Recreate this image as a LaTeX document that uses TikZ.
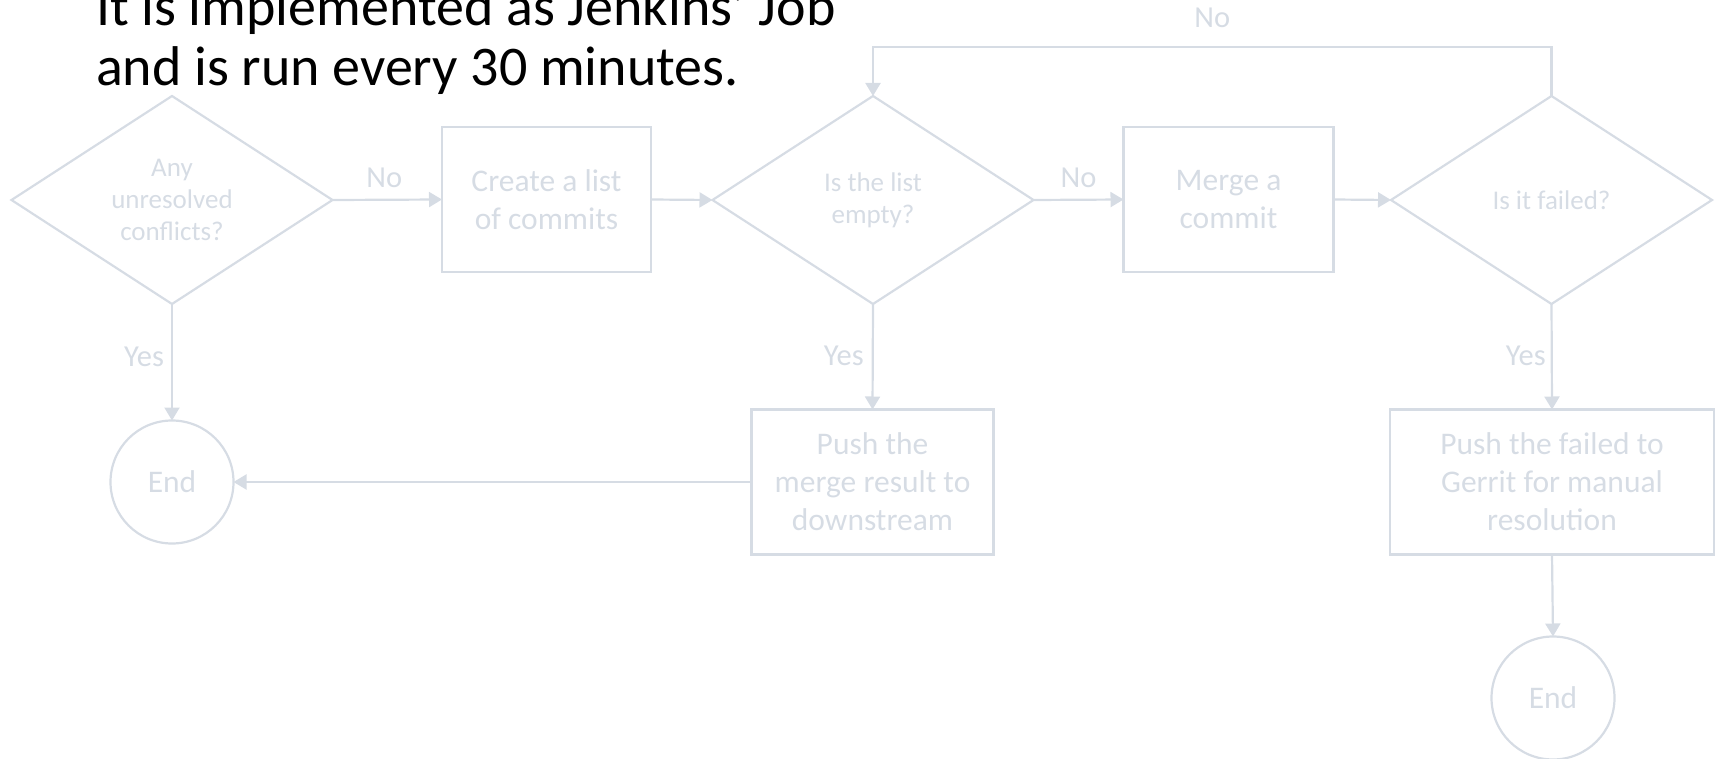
\documentclass[tikz,border=0pt]{standalone}
\usepackage{fontspec}
\setmainfont{Carlito}
\usetikzlibrary{shapes.geometric,arrows.meta}
\definecolor{flowgray}{RGB}{214,220,228}
\begin{document}
\begin{tikzpicture}[x=1pt,y=-1pt,
  every node/.style={inner sep=0pt, outer sep=0pt},
  decision/.style={draw=flowgray, line width=2.2pt, shape=diamond, aspect=1.54,
    minimum width=321pt, minimum height=208pt, align=center, text=flowgray,
    font=\fontsize{27}{32}\selectfont},
  stepbox/.style={draw=flowgray, line width=2.2pt, rectangle, align=center, text=flowgray,
    minimum height=145pt, font=\fontsize{31.5}{38}\selectfont},
  terminal/.style={draw=flowgray, line width=2.2pt, circle, minimum size=123pt,
    text=flowgray, font=\fontsize{31.5}{38}\selectfont},
  arr/.style={draw=flowgray, line width=2.2pt, -{Triangle[length=13pt,width=15pt]}},
  lbl/.style={text=flowgray, font=\fontsize{30.5}{36}\selectfont},
  heading/.style={anchor=base west, text=black, font=\fontsize{56}{60}\selectfont}]
\useasboundingbox (0,0) rectangle (1715,759);
\clip (0,0) rectangle (1715,759);

% heading
\node[heading] (title1) at (96,26) {It is implemented as Jenkins’ Job};
\node[heading] (title2) at (96,86) {and is run every 30 minutes.};

% main row
\node[decision] (conflicts) at (172,200) {Any\\unresolved\\conflicts?};
\node[stepbox, minimum width=209pt] (list) at (546.5,199.5) {Create a list\\of commits};
\node[decision] (empty) at (873,200) {Is the list\\empty?};
\node[stepbox, minimum width=210pt] (merge) at (1228.5,199.5) {Merge a\\commit};
\node[decision] (failed) at (1551.5,200) {Is it failed?};

% lower row
\node[terminal] (end1) at (172,482) {End};
\node[stepbox, minimum width=242pt] (pushmerge) at (872.5,482) {Push the\\merge result to\\downstream};
\node[stepbox, minimum width=324pt] (pushfailed) at (1552,482) {Push the failed to\\Gerrit for manual\\resolution};
\node[terminal] (end2) at (1553,698) {End};

% connectors
\draw[arr] (conflicts.east) -- node[lbl, midway, above=12pt, xshift=-3pt] {No} (list.west);
\draw[arr] (list.east) -- (empty.west);
\draw[arr] (empty.east) -- node[lbl, midway, above=12pt] {No} (merge.west);
\draw[arr] (merge.east) -- (failed.west);
\draw[arr] (failed.north) -- ++(0,-49) coordinate (loopturn)
  -| node[lbl, pos=0.25, above=19pt] {No} (empty.north);
\draw[arr] (conflicts.south) -- node[lbl, pos=0.45, left=8pt] {Yes} (end1.north);
\draw[arr] (empty.south) -- node[lbl, pos=0.49, left=9pt] {Yes} (pushmerge.north);
\draw[arr] (failed.south) -- node[lbl, pos=0.49, left=6pt] {Yes} (pushfailed.north);
\draw[arr] (pushmerge.west) -- (end1.east);
\draw[arr] (pushfailed.south) -- (end2.north);
\end{tikzpicture}
\end{document}
